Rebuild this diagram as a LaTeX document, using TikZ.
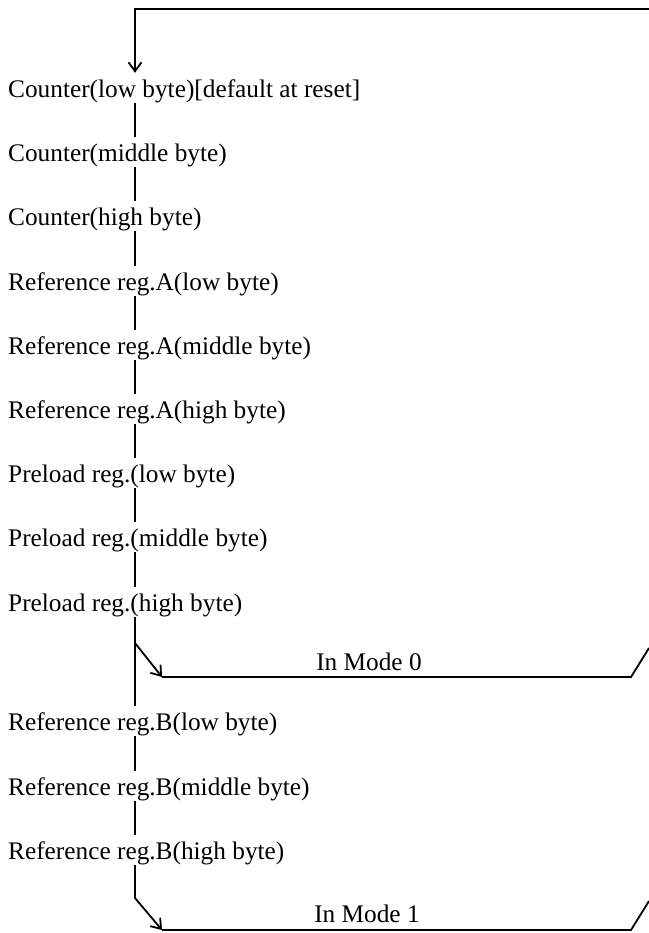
\documentclass[tikz,border=0pt]{standalone}
\usepackage{fontspec}
\setmainfont{Liberation Serif}
\usetikzlibrary{arrows.meta}

\tikzset{
  reg/.style={anchor=base west, inner sep=0pt, text height=24bp, text depth=6bp,
    font=\fontsize{25.4}{30}\selectfont},
  modelabel/.style={anchor=base, inner sep=0pt, font=\fontsize{25.4}{30}\selectfont},
  wire/.style={line width=1.8bp},
  into/.style={wire, -{Straight Barb[length=9bp,width=13bp]}}
}

\begin{document}
\begin{tikzpicture}[x=1bp,y=-1bp]
      \useasboundingbox (0,0) rectangle (649,933) ;
      \node[reg] (cl) at (8,97) {Counter(low byte)[default at reset]} ;
      \node[reg] (cm) at (8,161) {Counter(middle byte)} ;
      \node[reg] (ch) at (8,225) {Counter(high byte)} ;
      \node[reg] (ral) at (8,290) {Reference reg.A(low byte)} ;
      \node[reg] (ram) at (8,354) {Reference reg.A(middle byte)} ;
      \node[reg] (rah) at (8,418) {Reference reg.A(high byte)} ;
      \node[reg] (pl) at (8,482) {Preload reg.(low byte)} ;
      \node[reg] (pm) at (8,546) {Preload reg.(middle byte)} ;
      \node[reg] (ph) at (8,611) {Preload reg.(high byte)} ;
      \node[reg] (rbl) at (8,730) {Reference reg.B(low byte)} ;
      \node[reg] (rbm) at (8,795) {Reference reg.B(middle byte)} ;
      \node[reg] (rbh) at (8,859) {Reference reg.B(high byte)} ;
      \coordinate (sp) at (135,0) ;
      \coordinate (top) at (135,9) ;
      \coordinate (topr) at (649,9) ;
      % loop back to the first register
      \draw[into] (topr) -- (top) -- (cl.north -| sp) ;
      \draw[wire] (cl.south -| sp) -- (cm.north -| sp) ;
      \draw[wire] (cm.south -| sp) -- (ch.north -| sp) ;
      \draw[wire] (ch.south -| sp) -- (ral.north -| sp) ;
      \draw[wire] (ral.south -| sp) -- (ram.north -| sp) ;
      \draw[wire] (ram.south -| sp) -- (rah.north -| sp) ;
      \draw[wire] (rah.south -| sp) -- (pl.north -| sp) ;
      \draw[wire] (pl.south -| sp) -- (pm.north -| sp) ;
      \draw[wire] (pm.south -| sp) -- (ph.north -| sp) ;
      \draw[wire] (ph.south -| sp) -- (rbl.north -| sp) ;
      \draw[wire] (rbl.south -| sp) -- (rbm.north -| sp) ;
      \draw[wire] (rbm.south -| sp) -- (rbh.north -| sp) ;
      % mode 0 branch
      \coordinate (m0s) at (135,643) ;
      \coordinate (m0a) at (162,677) ;
      \coordinate (m0b) at (631,677) ;
      \coordinate (m0c) at (649,648) ;
      \draw[into] (m0s) -- (m0a) ;
      \draw[wire] (m0a) -- (m0b) -- (m0c) ;
      \node[modelabel] (mode0) at (369,670) {In Mode 0} ;
      % mode 1 branch
      \coordinate (m1s) at (135,898) ;
      \coordinate (m1a) at (162,930) ;
      \coordinate (m1b) at (631,930) ;
      \coordinate (m1c) at (649,901) ;
      \draw[into] (rbh.south -| sp) -- (m1s) -- (m1a) ;
      \draw[wire] (m1a) -- (m1b) -- (m1c) ;
      \node[modelabel] (mode1) at (367,922) {In Mode 1} ;
\end{tikzpicture}
\end{document}
